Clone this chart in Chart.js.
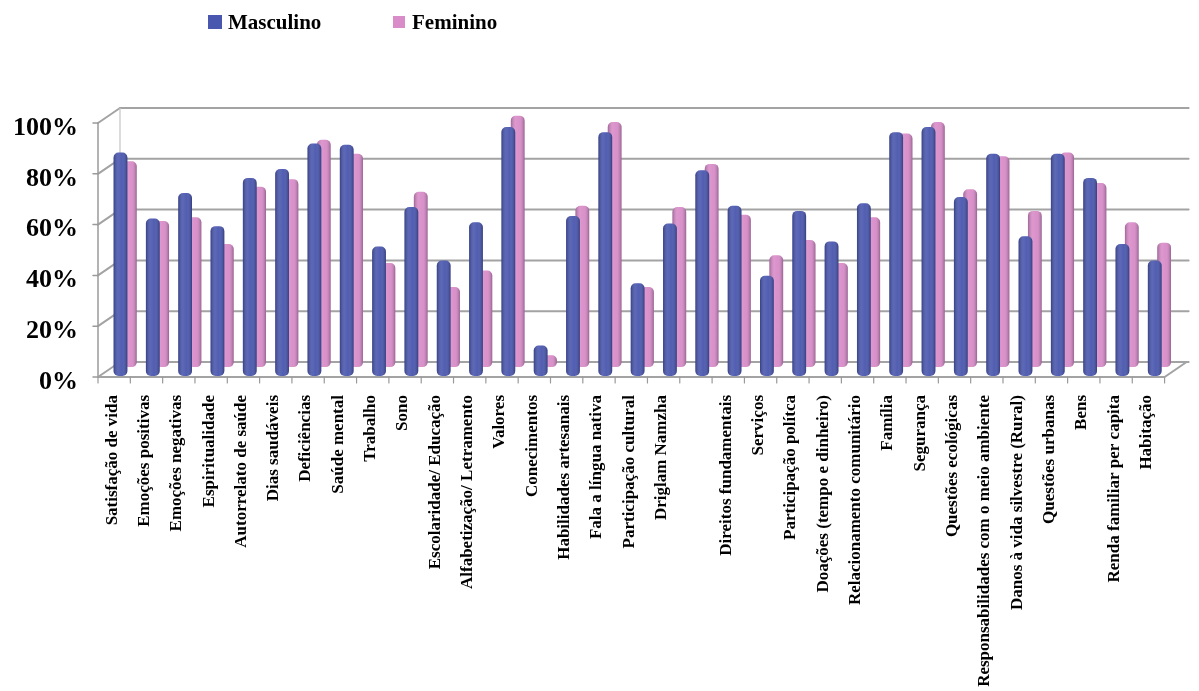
<!DOCTYPE html>
<html lang="pt">
<head>
<meta charset="utf-8">
<title>Masculino x Feminino</title>
<script src="https://cdn.jsdelivr.net/npm/chart.js@4.4.1/dist/chart.umd.min.js"></script>
<style>
  html, body { margin: 0; padding: 0; background: #fff; }
  #wrap { position: relative; width: 1199px; height: 691px; }
  .leg-box { position: absolute; }
  .leg-txt { position: absolute; font: bold 21px "Liberation Serif", "Times New Roman", serif; color: #000; line-height: 1; }
</style>
</head>
<body>
<div id="wrap">
  <canvas id="grafico" width="1199" height="691"></canvas>
  <!-- legenda -->
  <div class="leg-box" style="left:208px; top:15px; width:14px; height:14px; background:#4a57ae;"></div>
  <div class="leg-txt" style="left:228px; top:12px;">Masculino</div>
  <div class="leg-box" style="left:393px; top:16px; width:12px; height:12px; background:#d98cc8;"></div>
  <div class="leg-txt" style="left:412px; top:12px;">Feminino</div>
</div>
<script>
// Dados por domínio
const categorias = [
  'Satisfação de vida', 'Emoções positivas', 'Emoções negativas', 'Espiritualidade',
  'Autorrelato de saúde', 'Dias saudáveis', 'Deficiências', 'Saúde mental', 'Trabalho',
  'Sono', 'Escolaridade/ Educação', 'Alfabetização/ Letramento', 'Valores', 'Conecimentos',
  'Habilidades artesanais', 'Fala a língua nativa', 'Participação cultural', 'Driglam Namzha',
  '', 'Direitos fundamentais', 'Serviços', 'Participação polítca', 'Doações (tempo e dinheiro)',
  'Relacionamento comunitário', 'Família', 'Segurança', 'Questões ecológicas',
  'Responsabilidades com o meio ambiente', 'Danos à vida silvestre (Rural)', 'Questões urbanas',
  'Bens', 'Renda familiar per capita', 'Habitação'
];
const masculino = [88, 62, 72, 59, 78, 81.5, 91.5, 91, 51, 66.5, 45.5, 60.5, 98, 12, 63, 96, 36.5,
  60, 81, 67, 39.5, 65, 53, 68, 96, 98, 70.5, 87.5, 55, 87.5, 78, 52, 45.5];
const feminino = [81, 57.5, 59, 48.5, 71, 74, 89.5, 84, 41, 69, 31.5, 38, 99, 4.7, 63.5, 96.5, 31.5,
  63, 80, 60, 44, 50, 41, 59, 92, 96.5, 70, 83, 61.5, 84.5, 72.5, 57, 49];
const ticksY = [0, 20, 40, 60, 80, 100];

const FONTE = '"Liberation Serif", "Times New Roman", serif';

// moldura "3D": plano da frente deslocado para a esquerda, parede do fundo para cima/direita
const moldura3d = {
  id: 'moldura3d',
  beforeDatasetsDraw(chart) {
    const { ctx, chartArea: a, scales: { x, y } } = chart;
    const frente = -11, fundo = 11, subida = 15;
    const yF = v => y.getPixelForValue(v) + 1;
    const yB = v => yF(v) - subida;
    ctx.save();
    ctx.lineCap = 'round';

    // linhas de grade na parede do fundo + diagonais da parede lateral
    ctx.strokeStyle = '#a3a3a3';
    ctx.lineWidth = 2;
    ticksY.forEach(v => {
      ctx.beginPath();
      ctx.moveTo(a.left + fundo, yB(v));
      ctx.lineTo(a.right + fundo + 2, yB(v));
      ctx.stroke();
      ctx.beginPath();
      ctx.moveTo(a.left + frente, yF(v));
      ctx.lineTo(a.left + fundo, yB(v));
      ctx.stroke();
    });
    ctx.lineWidth = 1.2;
    ctx.strokeStyle = '#c4c4c4';
    ctx.beginPath();
    ctx.moveTo(a.left + fundo, yB(100));
    ctx.lineTo(a.left + fundo, yB(0));
    ctx.stroke();

    // eixo vertical da frente com marcas
    ctx.strokeStyle = '#9a9a9a';
    ctx.lineWidth = 1.5;
    ctx.beginPath();
    ctx.moveTo(a.left + frente, yF(100));
    ctx.lineTo(a.left + frente, yF(0));
    ticksY.forEach(v => {
      ctx.moveTo(a.left + frente - 5, yF(v));
      ctx.lineTo(a.left + frente, yF(v));
    });
    ctx.stroke();

    // piso: borda da frente e lateral direita
    ctx.strokeStyle = '#a3a3a3';
    ctx.lineWidth = 2;
    ctx.beginPath();
    ctx.moveTo(a.left + frente, yF(0));
    ctx.lineTo(a.right + frente, yF(0));
    ctx.lineTo(a.right + fundo, yB(0));
    ctx.stroke();

    // marcas entre categorias
    ctx.lineWidth = 1.2;
    ctx.strokeStyle = '#9a9a9a';
    ctx.beginPath();
    for (let i = 0; i <= categorias.length; i++) {
      const px = x.getPixelForValue(i - 0.5) + frente;
      ctx.moveTo(px, yF(0));
      ctx.lineTo(px, yF(0) + 6);
    }
    ctx.stroke();
    ctx.restore();
  }
};

// sombreamento cilíndrico por cima de cada barra
const cilindros = {
  id: 'cilindros',
  afterDatasetDraw(chart, args) {
    const { ctx } = chart;
    ctx.save();
    args.meta.data.forEach(el => {
      const { x, y, base, width } = el.getProps(['x', 'y', 'base', 'width'], true);
      const esq = x - width / 2;
      const g = ctx.createLinearGradient(esq, 0, esq + width, 0);
      g.addColorStop(0, 'rgba(0,0,20,0.28)');
      g.addColorStop(0.35, 'rgba(255,255,255,0.10)');
      g.addColorStop(0.6, 'rgba(255,255,255,0.04)');
      g.addColorStop(1, 'rgba(0,0,20,0.30)');
      ctx.fillStyle = g;
      ctx.beginPath();
      ctx.roundRect(esq, y, width, base - y, 5);
      ctx.fill();
    });
    ctx.restore();
  }
};

new Chart(document.getElementById('grafico'), {
  type: 'bar',
  data: {
    labels: categorias,
    datasets: [
      {
        label: 'Masculino',
        data: masculino,
        yAxisID: 'y',
        backgroundColor: '#4a57ae',
        borderRadius: 5,
        borderSkipped: false,
        clip: false
      },
      {
        label: 'Feminino',
        data: feminino,
        yAxisID: 'y2',
        backgroundColor: '#d98cc8',
        borderRadius: 5,
        borderSkipped: false,
        clip: false
      }
    ]
  },
  options: {
    responsive: false,
    animation: false,
    events: [],
    layout: { padding: { left: 0, top: 122, right: 11, bottom: 0 } },
    datasets: {
      bar: { categoryPercentage: 0.58, barPercentage: 1.47 }
    },
    plugins: {
      legend: { display: false },
      tooltip: { enabled: false }
    },
    scales: {
      x: {
        grid: { display: false, drawTicks: false },
        border: { display: false },
        ticks: {
          autoSkip: false,
          minRotation: 90,
          maxRotation: 90,
          padding: 19,
          labelOffset: -13,
          color: '#000',
          font: { family: FONTE, size: 17, weight: 'bold' }
        },
        afterFit(scale) { scale.height = 315; }
      },
      y: {
        min: 0,
        max: 100,
        grid: { display: false, drawTicks: false },
        border: { display: false },
        afterBuildTicks(scale) { scale.ticks = ticksY.map(v => ({ value: v })); },
        ticks: {
          padding: 31,
          labelOffset: 6,
          color: '#000',
          font: { family: FONTE, size: 26, weight: 'bold' },
          callback: v => v + '%'
        },
        afterFit(scale) { scale.width = 109; }
      },
      // fileira de trás: base levemente acima da fileira da frente
      y2: {
        display: false,
        min: -3.5,
        max: 96.5
      }
    }
  },
  plugins: [moldura3d, cilindros]
});
</script>
</body>
</html>
